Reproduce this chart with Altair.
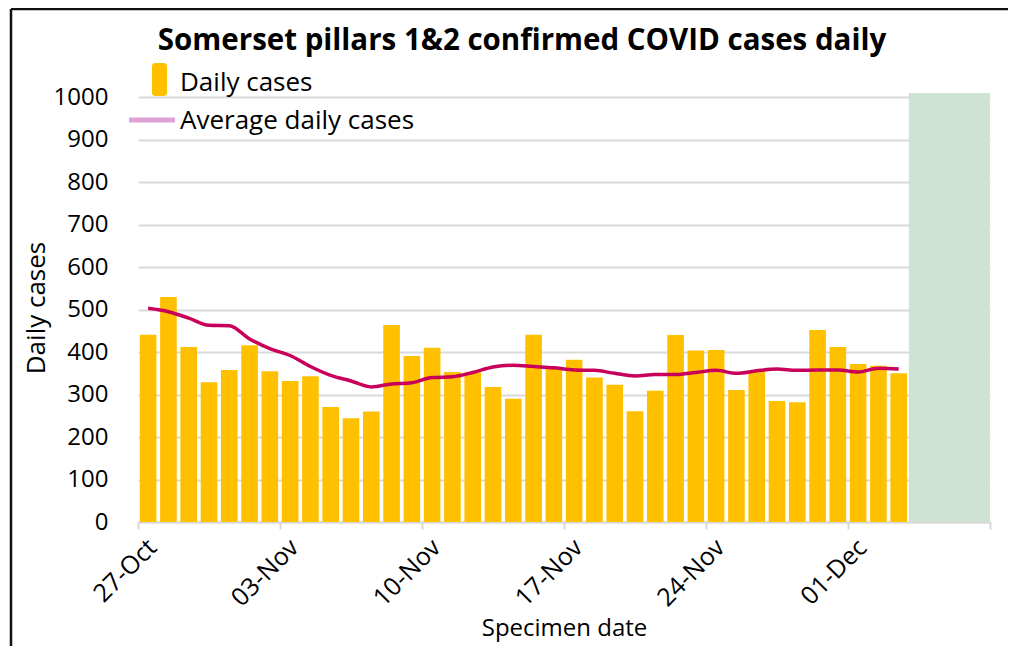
import altair as alt
import pandas as pd

# ---------------- data ----------------
start_date = "2020-10-27"
n_days = 38
daily_cases = [441, 530, 412, 329, 358, 416, 355, 332, 343, 271,
               244, 260, 464, 391, 410, 353, 352, 318, 290, 441,
               365, 382, 340, 323, 261, 309, 440, 404, 405, 311,
               354, 285, 282, 452, 412, 372, 368, 350]
average_cases = [503, 495, 480, 463, 462, 431, 408, 392, 366, 345,
                 332, 318, 325, 328, 340, 342, 352, 365, 369, 366,
                 363, 358, 357, 350, 344, 347, 347, 352, 357, 350,
                 356, 360, 357, 358, 358, 353, 362, 360]
shade_start = "2020-12-04"
shade_end = "2020-12-08"
shade_value = 1010
y_ticks = [0, 100, 200, 300, 400, 500, 600, 700, 800, 900, 1000]
x_tick_dates = ["2020-10-27", "2020-11-03", "2020-11-10", "2020-11-17",
                "2020-11-24", "2020-12-01", "2020-12-08"]

dates = [d.strftime("%Y-%m-%dT00:00:00") for d in pd.date_range(start_date, periods=n_days, freq="D")]
df = pd.DataFrame({"date": dates, "cases": daily_cases, "avg": average_cases})
shade_df = pd.DataFrame({"s": [shade_start + "T00:00:00"], "e": [shade_end + "T00:00:00"], "v": [shade_value]})

FONT = "Open Sans"
DAY = 86400000

def dt(s):
    y, m, d = [int(p) for p in s.split("-")]
    return alt.DateTime(year=y, month=m, date=d)

x_scale = alt.Scale(domain=[dt(start_date), dt(shade_end)])
y_scale = alt.Scale(domain=[0, shade_value], nice=False)

x_axis = alt.Axis(
    values=[dt(s) for s in x_tick_dates],
    labelExpr="datum.value >= time(datetime(2020, 11, 8)) ? '' : timeFormat(datum.value, '%d-%b')",
    labelAngle=-45, labelAlign="right", labelBaseline="middle",
    labelOffset=14, labelPadding=14,
    labelFont=FONT, labelFontSize=25, labelColor="#000000",
    domainColor="#d9d9d9", domainWidth=2, tickColor="#d9d9d9", tickWidth=2, tickSize=7,
    grid=False, title="Specimen date", titleFont=FONT, titleFontSize=24,
    titleFontWeight="normal", titleColor="#000000", titlePadding=6,
)
y_axis = alt.Axis(
    values=y_ticks, format="d", grid=True, gridColor="#d9d9d9", gridWidth=2,
    domain=False, ticks=False, labelPadding=30,
    labelFont=FONT, labelFontSize=24, labelColor="#000000",
    title="Daily cases", titleFont=FONT, titleFontSize=26,
    titleFontWeight="normal", titleColor="#000000", titlePadding=4,
)

base = alt.Chart(df)

bars = base.transform_calculate(
    x0=f"time(toDate(datum.date)) + 0.09*{DAY}",
    x1=f"time(toDate(datum.date)) + 0.91*{DAY}",
).mark_bar(color="#FFC000").encode(
    x=alt.X("x0:T", scale=x_scale, axis=x_axis),
    x2="x1:T",
    y=alt.Y("cases:Q", scale=y_scale, axis=y_axis),
    y2=alt.datum(0),
)

shade = alt.Chart(shade_df).mark_bar(color="#CFE3D5").encode(
    x="s:T", x2="e:T", y="v:Q", y2=alt.datum(0),
)

line = base.transform_calculate(
    xm=f"time(toDate(datum.date)) + 0.5*{DAY}",
).mark_line(color="#C8005A", strokeWidth=3.5, interpolate="monotone").encode(
    x="xm:T", y="avg:Q",
)

one = alt.Data(values=[{}])
frame_left = alt.Chart(one).mark_rule(color="#111111", strokeWidth=2.5, clip=False).encode(
    x=alt.value(-127), y=alt.value(-84), y2=alt.value(700))
frame_top = alt.Chart(one).mark_rule(color="#111111", strokeWidth=2.5, clip=False).encode(
    x=alt.value(-127), x2=alt.value(1000), y=alt.value(-84))

title = alt.Chart(one).mark_text(
    text="Somerset pillars 1&2 confirmed COVID cases daily", font=FONT, fontSize=29.5,
    fontWeight="bold", align="center", baseline="alphabetic", color="#000000").encode(
    x=alt.value(384), y=alt.value(-43))

leg_bar = alt.Chart(one).mark_rect(color="#FFC000", cornerRadius=3).encode(
    x=alt.value(14), x2=alt.value(29), y=alt.value(-30), y2=alt.value(3))
leg_bar_text = alt.Chart(one).mark_text(
    text="Daily cases", font=FONT, fontSize=26, align="left", baseline="middle", color="#000000").encode(
    x=alt.value(42), y=alt.value(-10))
leg_line = alt.Chart(one).mark_rule(color="#E0A2D6", strokeWidth=5).encode(
    x=alt.value(-9), x2=alt.value(37), y=alt.value(27))
leg_line_text = alt.Chart(one).mark_text(
    text="Average daily cases", font=FONT, fontSize=26, align="left", baseline="middle", color="#000000").encode(
    x=alt.value(42), y=alt.value(28))

chart = alt.layer(
    bars, shade, line, frame_left, frame_top, title,
    leg_bar, leg_bar_text, leg_line, leg_line_text,
).properties(
    width=852, height=429,
    autosize=alt.AutoSizeParams(type="none"),
    padding={"left": 130, "top": 85, "right": 18, "bottom": 124},
    background="#ffffff",
).configure_view(stroke=None)

chart.save("out.html", embed_options={"renderer": "svg", "actions": False})
